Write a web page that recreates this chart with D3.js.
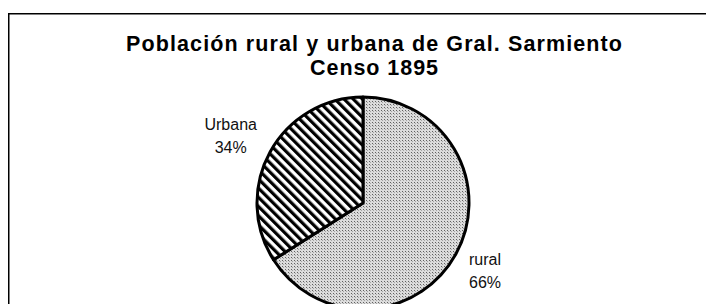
<!DOCTYPE html>
<html>
<head>
<meta charset="utf-8">
<script src="https://cdn.jsdelivr.net/npm/d3@7/dist/d3.min.js"></script>
<style>
  body { margin: 0; background: #fff; }
  svg { display: block; }
  text { font-family: "Liberation Sans", Arial, sans-serif; }
</style>
</head>
<body>
<svg id="chart" width="706" height="304"></svg>
<script>
// data
const categories = ['rural', 'Urbana'];
const values = [66, 34];
const pctLabels = ['66%', '34%'];
const titleLines = ['Población rural y urbana de Gral. Sarmiento', 'Censo 1895'];

const svg = d3.select('#chart');
const width = +svg.attr('width');
const height = +svg.attr('height');

const defs = svg.append('defs');

// fine dotted grey fill for rural
const dots = defs.append('pattern').attr('id', 'dots')
  .attr('patternUnits', 'userSpaceOnUse').attr('width', 3).attr('height', 3);
dots.append('rect').attr('width', 3).attr('height', 3).attr('fill', '#dcdcdc');
dots.append('rect').attr('x', 0).attr('y', 0).attr('width', 1).attr('height', 1).attr('fill', '#606060');
dots.append('rect').attr('x', 1).attr('y', 1).attr('width', 1).attr('height', 1).attr('fill', '#a4a4a4');

// diagonal hatch for urbana
const hatch = defs.append('pattern').attr('id', 'hatch')
  .attr('patternUnits', 'userSpaceOnUse').attr('width', 6.5).attr('height', 6.5)
  .attr('patternTransform', 'rotate(-45)');
hatch.append('rect').attr('width', 6.5).attr('height', 6.5).attr('fill', '#fff');
hatch.append('rect').attr('width', 3.2).attr('height', 6.5).attr('fill', '#000');

// chart area border (runs off the right and bottom edges)
svg.append('rect')
  .attr('x', 8.75).attr('y', 13.75)
  .attr('width', 740).attr('height', 320)
  .attr('fill', 'none').attr('stroke', '#000').attr('stroke-width', 1.5);

// title
const title = svg.append('g').attr('transform', 'translate(374,0)');
const titleWidths = [496, 128];
title.selectAll('text').data(titleLines).enter().append('text')
  .attr('x', 0)
  .attr('y', (d, i) => 51 + i * 24)
  .attr('text-anchor', 'middle')
  .attr('font-size', 21.5)
  .attr('font-weight', 'bold')
  .attr('textLength', (d, i) => titleWidths[i])
  .attr('lengthAdjust', 'spacing')
  .text(d => d);

// pie
const cx = 363, cy = 203, r = 106;
const g = svg.append('g').attr('transform', `translate(${cx},${cy})`);
const pie = d3.pie().sort(null).value(d => d)(values);
const arc = d3.arc().innerRadius(0).outerRadius(r);
const fills = ['url(#dots)', 'url(#hatch)'];

g.selectAll('path').data(pie).enter().append('path')
  .attr('d', arc)
  .attr('fill', (d, i) => fills[i])
  .attr('stroke', '#000')
  .attr('stroke-width', 3)
  .attr('stroke-linejoin', 'round');

// labels, centred two-line blocks outside the slices
const lineH = 23;
pie.forEach((d, i) => {
  const a = (d.startAngle + d.endAngle) / 2;
  const dx = Math.sin(a), dy = -Math.cos(a);
  const t = g.append('text')
    .attr('font-size', 16)
    .attr('fill', '#111')
    .attr('text-anchor', 'middle');
  t.append('tspan').text(categories[i]);
  t.append('tspan').text(pctLabels[i]);
  const w = Math.max(...t.selectAll('tspan').nodes().map(n => n.getComputedTextLength()));
  const bx = dx * 121 + Math.sign(dx) * w / 2;
  const by = dy * 141;
  t.selectAll('tspan')
    .attr('x', bx)
    .attr('y', (s, j) => by - lineH / 2 + 6 + j * lineH);
});
</script>
</body>
</html>
